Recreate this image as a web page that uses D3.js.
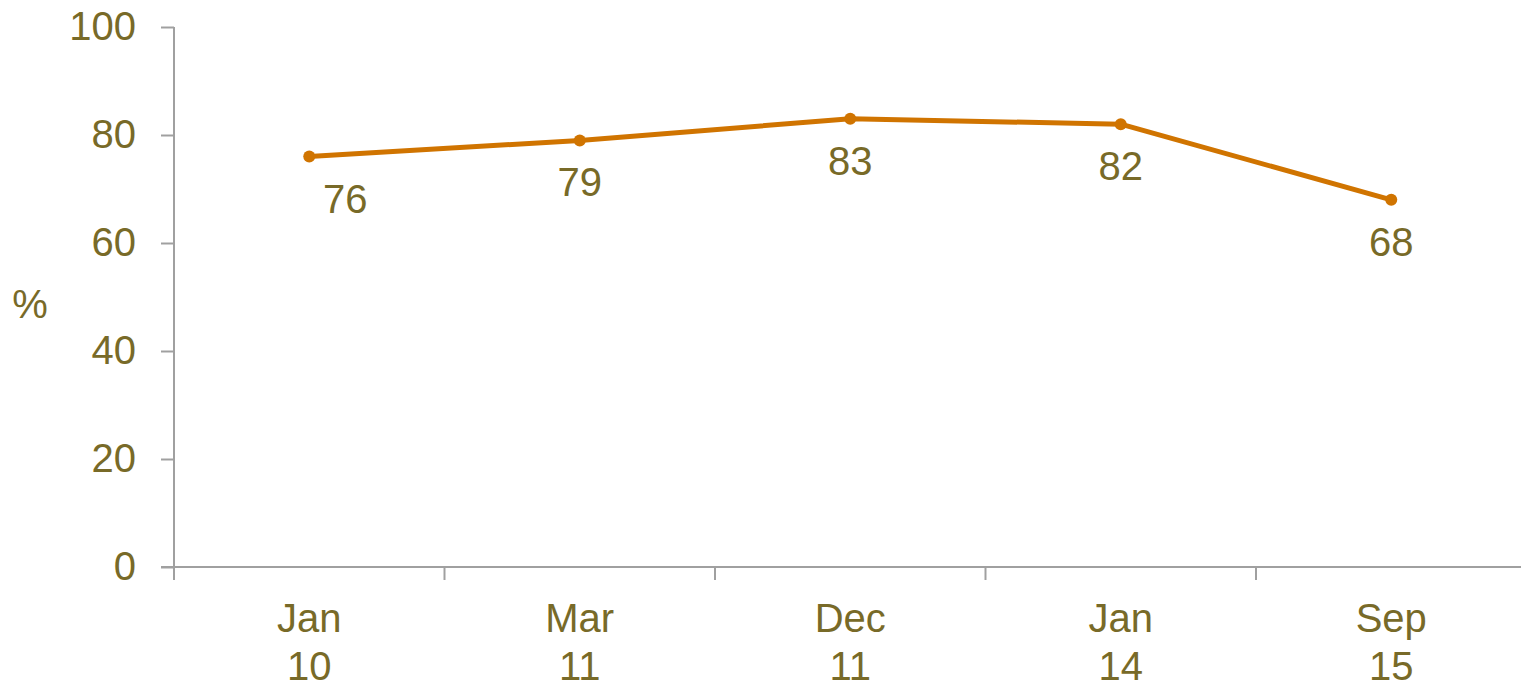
<!DOCTYPE html>
<html>
<head>
<meta charset="utf-8">
<script src="https://cdn.jsdelivr.net/npm/d3@7"></script>
<style>
  html, body { margin: 0; padding: 0; background: #fff; }
  svg { display: block; }
</style>
</head>
<body>
<svg id="chart" width="1521" height="683"></svg>
<script>
const categories = ["Jan 10", "Mar 11", "Dec 11", "Jan 14", "Sep 15"];
const values = [76, 79, 83, 82, 68];
const yTicks = [0, 20, 40, 60, 80, 100];
const yLabel = "%";

const textColor = "#786a28";
const lineColor = "#d07400";
const axisColor = "#a0a0a0";
const font = "'Liberation Sans', Arial, sans-serif";

const svg = d3.select("#chart");
const x0 = 174, x1 = 1526.5, yTop = 27, yBot = 567;

const x = d3.scaleBand().domain(categories).range([x0, x1]);
const y = d3.scaleLinear().domain([0, 100]).range([yBot, yTop]);

// Y axis
const yAxis = svg.append("g").attr("transform", `translate(${x0},0)`)
  .call(d3.axisLeft(y).tickValues(yTicks).tickSize(13).tickPadding(25));
yAxis.select(".domain").attr("stroke", axisColor).attr("stroke-width", 2).attr("d", `M0,${yTop}V${yBot}`);
yAxis.selectAll(".tick line").attr("stroke", axisColor).attr("stroke-width", 2);
yAxis.selectAll(".tick text").attr("fill", textColor).style("font-family", font).style("font-size", "40px");

// X axis
const xAxis = svg.append("g").attr("transform", `translate(0,${yBot})`);
xAxis.append("line").attr("x1", x0 - 13).attr("x2", 1521).attr("y1", 0).attr("y2", 0)
  .attr("stroke", axisColor).attr("stroke-width", 2);
const boundaries = categories.map(c => x(c)).concat([x1]);
xAxis.selectAll("line.tk").data(boundaries).enter().append("line").attr("class", "tk")
  .attr("x1", d => d).attr("x2", d => d).attr("y1", 0).attr("y2", 13)
  .attr("stroke", axisColor).attr("stroke-width", 2);
const xl = xAxis.selectAll("text.xl").data(categories).enter().append("text").attr("class", "xl")
  .attr("x", d => x(d) + x.bandwidth() / 2)
  .attr("text-anchor", "middle").attr("fill", textColor)
  .style("font-family", font).style("font-size", "40px");
xl.append("tspan").attr("x", d => x(d) + x.bandwidth() / 2).attr("y", 65).text(d => d.split(" ")[0]);
xl.append("tspan").attr("x", d => x(d) + x.bandwidth() / 2).attr("y", 113).text(d => d.split(" ")[1]);

// Y label
svg.append("text").attr("x", 30).attr("y", 318).attr("text-anchor", "middle")
  .attr("fill", textColor).style("font-family", font).style("font-size", "40px").text(yLabel);

// Line
const data = categories.map((c, i) => ({ c, v: values[i] }));
const cx = d => x(d.c) + x.bandwidth() / 2;
svg.append("path").datum(data)
  .attr("d", d3.line().x(cx).y(d => y(d.v)))
  .attr("fill", "none").attr("stroke", lineColor).attr("stroke-width", 5).attr("stroke-linejoin", "round");
svg.selectAll("circle.pt").data(data).enter().append("circle").attr("class", "pt")
  .attr("cx", cx).attr("cy", d => y(d.v)).attr("r", 6).attr("fill", lineColor);

// Data labels
const labelShift = [36, 0, 0, 0, 0];
svg.selectAll("text.dl").data(data).enter().append("text").attr("class", "dl")
  .attr("x", (d, i) => cx(d) + labelShift[i]).attr("y", d => y(d.v) + 56)
  .attr("text-anchor", "middle").attr("fill", textColor)
  .style("font-family", font).style("font-size", "40px").text(d => d.v);
</script>
</body>
</html>
